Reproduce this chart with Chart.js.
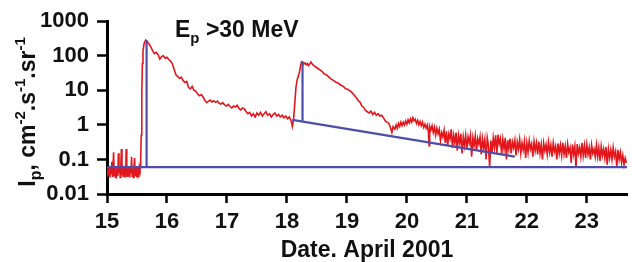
<!DOCTYPE html>
<html>
<head>
<meta charset="utf-8">
<script src="https://cdn.jsdelivr.net/npm/chart.js@4.4.1/dist/chart.umd.min.js"></script>
<style>
  body { margin: 0; background: #fff; }
  canvas { display: block; }
</style>
</head>
<body>
<canvas id="flux-chart" width="632" height="262"></canvas>
<script>
// proton flux >30 MeV, April 2001 (day of month)
const noiseStart = 15.0;
const noiseStep = 0.01;
const noiseFlux = [
  0.045, 0.032, 0.06, 0.035, 0.055, 0.03, 0.065, 0.04, 0.086, 0.033,
  0.058, 0.16, 0.035, 0.06, 0.03, 0.055, 0.04, 0.062, 0.033, 0.15,
  0.04, 0.058, 0.03, 0.06, 0.2, 0.035, 0.055, 0.032, 0.065, 0.04,
  0.06, 0.03, 0.2, 0.045, 0.033, 0.06, 0.035, 0.058, 0.03, 0.062,
  0.04, 0.12, 0.033, 0.055, 0.03, 0.06, 0.11, 0.035, 0.058, 0.032,
  0.06, 0.04, 0.055, 0.03, 0.06, 0.05
];

const mainFlux = [
  [15.56, 0.06], [15.57, 0.5], [15.58, 8], [15.59, 60], [15.60, 140], [15.62, 230],
  [15.645, 285], [15.67, 260], [15.70, 220], [15.73, 180], [15.76, 140], [15.79, 115],
  [15.82, 125], [15.85, 110], [15.88, 80], [15.91, 95], [15.94, 100], [15.97, 85],
  [16.00, 90], [16.03, 78], [16.06, 70], [16.09, 58], [16.12, 40], [16.15, 28],
  [16.18, 25], [16.21, 22], [16.24, 24], [16.27, 19], [16.30, 17], [16.33, 18],
  [16.36, 12], [16.39, 11], [16.42, 13], [16.45, 10], [16.48, 9.5], [16.51, 8],
  [16.54, 7], [16.57, 7.5], [16.60, 6.5], [16.63, 5.2], [16.66, 4.4], [16.69, 4.8],
  [16.72, 5.2], [16.75, 4.6], [16.78, 5.0], [16.81, 4.5], [16.84, 4.9], [16.87, 4.2],
  [16.90, 4.0], [16.93, 4.4], [16.96, 3.8], [16.99, 3.5], [17.02, 3.9], [17.05, 3.4],
  [17.08, 3.1], [17.11, 3.5], [17.14, 3.3], [17.17, 3.7], [17.20, 3.0], [17.23, 2.7],
  [17.26, 3.1], [17.29, 2.9], [17.32, 2.4], [17.35, 2.1], [17.38, 2.3], [17.41, 1.8],
  [17.44, 2.1], [17.47, 1.7], [17.50, 2.2], [17.53, 1.9], [17.56, 2.3], [17.59, 1.8],
  [17.62, 2.1], [17.65, 2.4], [17.68, 1.9], [17.71, 2.1], [17.74, 1.7], [17.77, 2.0],
  [17.80, 2.2], [17.83, 1.8], [17.86, 2.0], [17.89, 1.7], [17.92, 1.9], [17.95, 1.6],
  [17.98, 1.8], [18.01, 1.5], [18.04, 1.7], [18.07, 1.3], [18.09, 0.9], [18.11, 1.4],
  [18.13, 4], [18.15, 12], [18.17, 20], [18.19, 26], [18.21, 34], [18.23, 55],
  [18.245, 68], [18.26, 66], [18.28, 58], [18.30, 62], [18.32, 55], [18.34, 60],
  [18.36, 52], [18.38, 58], [18.40, 66], [18.43, 55], [18.46, 50], [18.50, 45],
  [18.54, 40], [18.58, 36], [18.62, 30], [18.66, 28], [18.70, 24], [18.74, 21],
  [18.78, 19], [18.82, 17], [18.86, 16], [18.90, 14], [18.94, 13], [18.98, 11],
  [19.02, 10.5], [19.06, 9.5], [19.10, 8], [19.13, 7], [19.16, 6], [19.19, 5],
  [19.22, 4.5], [19.25, 3.5], [19.28, 3.2], [19.31, 2.6], [19.34, 2.4], [19.37, 2.2],
  [19.40, 2.5], [19.43, 2.0], [19.46, 2.3], [19.49, 1.9], [19.52, 2.1], [19.55, 1.8],
  [19.58, 1.9], [19.61, 1.6], [19.64, 1.3], [19.67, 1.2], [19.70, 1.1], [19.73, 0.8],
  [19.75, 0.6], [19.77, 0.9], [19.80, 0.75], [19.82, 1.0], [19.84, 0.8], [19.86, 1.1],
  [19.88, 0.9], [19.90, 1.2], [19.92, 0.95], [19.94, 1.2], [19.96, 1.0], [19.98, 1.3],
  [20.00, 1.05], [20.02, 1.4], [20.04, 1.15], [20.06, 1.5], [20.08, 1.2], [20.10, 1.6],
  [20.12, 1.3], [20.14, 1.45], [20.16, 1.1], [20.18, 1.35], [20.20, 1.0], [20.22, 1.25],
  [20.24, 0.95], [20.26, 1.2], [20.28, 0.85], [20.30, 1.05], [20.32, 0.8], [20.34, 1.0],
  [20.36, 0.6], [20.37, 0.25], [20.38, 0.9], [20.40, 0.7], [20.42, 0.95], [20.44, 0.6],
  [20.46, 0.85], [20.48, 0.5], [20.50, 0.8], [20.52, 0.55], [20.54, 0.75], [20.56, 0.35],
  [20.58, 0.6]
];

const tailStart = 20.6;
const tailStep = 0.02;
const tailFlux = [
  0.45, 0.7, 0.3, 0.65, 0.25, 0.55, 0.4, 0.75, 0.22, 0.5,
  0.3, 0.6, 0.18, 0.5, 0.3, 0.55, 0.15, 0.45, 0.25, 0.5,
  0.2, 0.45, 0.3, 0.5, 0.12, 0.42, 0.25, 0.48, 0.18, 0.4,
  0.28, 0.45, 0.14, 0.4, 0.22, 0.38, 0.1, 0.42, 0.25, 0.06,
  0.35, 0.16, 0.42, 0.22, 0.5, 0.15, 0.52, 0.28, 0.4, 0.14,
  0.38, 0.2, 0.42, 0.1, 0.36, 0.2, 0.4, 0.15, 0.32, 0.22,
  0.36, 0.13, 0.32, 0.2, 0.38, 0.15, 0.3, 0.19, 0.34, 0.11,
  0.3, 0.16, 0.35, 0.2, 0.28, 0.12, 0.33, 0.18, 0.3, 0.14,
  0.33, 0.15, 0.27, 0.1, 0.3, 0.18, 0.27, 0.14, 0.32, 0.16,
  0.26, 0.12, 0.3, 0.17, 0.24, 0.1, 0.29, 0.15, 0.26, 0.13,
  0.3, 0.14, 0.24, 0.11, 0.28, 0.16, 0.22, 0.08, 0.27, 0.14,
  0.24, 0.06, 0.28, 0.15, 0.22, 0.12, 0.3, 0.13, 0.25, 0.11,
  0.27, 0.14, 0.22, 0.1, 0.26, 0.15, 0.2, 0.12, 0.26, 0.12,
  0.22, 0.09, 0.24, 0.13, 0.2, 0.11, 0.23, 0.07, 0.2, 0.11,
  0.19, 0.1, 0.22, 0.12, 0.17, 0.06, 0.19, 0.1, 0.16, 0.08,
  0.13, 0.07, 0.11, 0.08
];

// background and onset lines (blue)
const bgFlat = [[15.0, 0.06], [23.67, 0.06]];
const onset1 = [[15.66, 0.06], [15.66, 280]];
const onset2 = [[18.26, 1.32], [18.26, 68]];
const bgSlope = [[18.09, 1.4], [21.8, 0.12]];

const xTicks = [15, 16, 17, 18, 19, 20, 21, 22, 23];
const yTicks = [0.01, 0.1, 1, 10, 100, 1000];

const FONT = '"Liberation Sans", Arial, sans-serif';
const RED = '#e3161b';
const BLUE = '#4d4dab';

const toPts = arr => arr.map(([x, y]) => ({x, y}));

let redData = [];
noiseFlux.forEach((v, i) => redData.push({x: noiseStart + i * noiseStep, y: v}));
redData = redData.concat(toPts(mainFlux));
tailFlux.forEach((v, i) => redData.push({x: tailStart + i * tailStep, y: v}));

function drawRich(ctx, parts, x, y, center) {
    let total = 0;
    for (const [t, size] of parts) {
        ctx.font = `bold ${size}px ${FONT}`;
        total += ctx.measureText(t).width;
    }
    let cx = center ? x - total / 2 : x;
    for (const [t, size, dy] of parts) {
        ctx.font = `bold ${size}px ${FONT}`;
        ctx.fillText(t, cx, y + dy);
        cx += ctx.measureText(t).width;
    }
}

const textPlugin = {
    id: 'texts',
    afterDraw(chart) {
        const ctx = chart.ctx;
        ctx.save();
        ctx.fillStyle = '#111';
        ctx.textBaseline = 'alphabetic';
        ctx.textAlign = 'left';
        // energy label
        drawRich(ctx, [['E', 23, 0], ['p', 15, 6], [' >30 MeV', 23, 0]], 175, 37, false);
        // y axis title, rotated
        ctx.translate(35, 112);
        ctx.rotate(-Math.PI / 2);
        drawRich(ctx, [
            ['I', 23, 0], ['p', 16, 6], [', cm', 23, 0], ['-2', 15, -10], ['.', 23, 0],
            ['s', 23, 0], ['-1', 15, -10], ['.', 23, 0], ['sr', 23, 0], ['-1', 15, -10]
        ], 0, 0, true);
        ctx.restore();
    }
};

new Chart(document.getElementById('flux-chart').getContext('2d'), {
    type: 'line',
    data: {
        datasets: [
            {data: toPts(bgFlat), borderColor: BLUE, borderWidth: 2.2},
            {data: toPts(onset1), borderColor: BLUE, borderWidth: 2.2},
            {data: toPts(onset2), borderColor: BLUE, borderWidth: 2.2},
            {data: toPts(bgSlope), borderColor: BLUE, borderWidth: 2.2},
            {data: redData, borderColor: RED, borderWidth: 1.6}
        ]
    },
    options: {
        responsive: false,
        animation: false,
        devicePixelRatio: 1,
        layout: {padding: {top: 21, right: 5, left: 0, bottom: 0}},
        elements: {
            point: {radius: 0},
            line: {tension: 0, fill: false}
        },
        plugins: {
            legend: {display: false},
            tooltip: {enabled: false}
        },
        scales: {
            x: {
                type: 'linear',
                min: 15,
                max: 23.67,
                afterBuildTicks: scale => { scale.ticks = xTicks.map(v => ({value: v})); },
                afterFit: scale => { scale.height = 68; },
                border: {display: true, color: '#000', width: 3},
                grid: {drawOnChartArea: false, drawTicks: true, tickLength: 9, tickWidth: 2.5, tickColor: '#000'},
                ticks: {
                    color: '#111',
                    padding: 6,
                    maxRotation: 0,
                    font: {family: FONT, size: 22, weight: 'bold'},
                    callback: v => String(v)
                },
                title: {
                    display: true,
                    text: 'Date. April 2001',
                    color: '#111',
                    padding: 0,
                    font: {family: FONT, size: 23, weight: 'bold', lineHeight: 1}
                }
            },
            y: {
                type: 'logarithmic',
                min: 0.01,
                max: 1000,
                afterBuildTicks: scale => { scale.ticks = yTicks.map(v => ({value: v})); },
                afterFit: scale => { scale.width = 107; },
                border: {display: true, color: '#000', width: 3},
                grid: {drawOnChartArea: false, drawTicks: true, tickLength: 10, tickWidth: 2.5, tickColor: '#000'},
                ticks: {
                    color: '#111',
                    padding: 8,
                    font: {family: FONT, size: 22, weight: 'bold'},
                    callback: v => String(v)
                }
            }
        }
    },
    plugins: [textPlugin]
});
</script>
</body>
</html>
